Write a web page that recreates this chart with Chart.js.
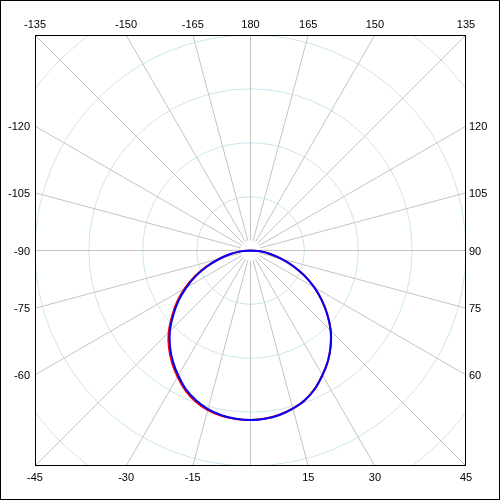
<!DOCTYPE html>
<html>
<head>
<meta charset="utf-8">
<script src="https://cdn.jsdelivr.net/npm/chart.js@4/dist/chart.umd.min.js"></script>
<style>
  html, body { margin: 0; padding: 0; background: #ffffff; }
  #wrap { width: 500px; height: 500px; }
</style>
</head>
<body>
<div id="wrap"><canvas id="c" width="500" height="500"></canvas></div>
<script>
// Angles in degrees (0 = down, 90 = right, 180 = up, -90 = left)
const angles = [-90,-85,-80,-75,-70,-65,-60,-55,-50,-45,-40,-35,-30,-25,-20,-15,-10,-5,0,5,10,15,20,25,30,35,40,45,50,55,60,65,70,75,80,85,90];
// Radii normalised so that 1 = half width of the plot square
const blueR = [0,0.046,0.094,0.148,0.213,0.279,0.344,0.408,0.468,0.529,0.581,0.628,0.670,0.710,0.740,0.762,0.776,0.784,0.787,0.784,0.775,0.760,0.738,0.708,0.668,0.626,0.579,0.527,0.466,0.405,0.342,0.276,0.210,0.146,0.093,0.045,0];
const redR  = [0,0.047,0.097,0.153,0.220,0.287,0.353,0.417,0.476,0.537,0.589,0.635,0.677,0.716,0.746,0.767,0.779,0.785,0.787,0.783,0.774,0.759,0.739,0.707,0.667,0.627,0.578,0.526,0.467,0.404,0.341,0.277,0.209,0.147,0.092,0.045,0];
// Angle tick labels around the square
const topLabels = [-135,-150,-165,180,165,150,135];
const bottomLabels = [-45,-30,-15,15,30,45];
const leftLabels = [-120,-105,-90,-75,-60];
const rightLabels = [120,105,90,75,60];
const ringValues = [0.25,0.5,0.75,1,1.25];
const spokeAngles = [];
for (let a = -180; a < 180; a += 15) spokeAngles.push(a);

function toXY(thetaDeg, r) {
  const t = thetaDeg * Math.PI / 180;
  return { x: r * Math.sin(t), y: -r * Math.cos(t) };
}
const bluePts = angles.map((a, i) => toXY(a, blueR[i]));
const redPts = angles.map((a, i) => toXY(a, redR[i]));

const polarGrid = {
  id: 'polarGrid',
  beforeDatasetsDraw(chart) {
    const ctx = chart.ctx, xs = chart.scales.x, ys = chart.scales.y, ca = chart.chartArea;
    const cx = xs.getPixelForValue(0), cy = ys.getPixelForValue(0);
    const unit = xs.getPixelForValue(1) - cx;
    ctx.save();
    ctx.beginPath();
    ctx.rect(ca.left, ca.top, ca.right - ca.left, ca.bottom - ca.top);
    ctx.clip();
    ctx.lineWidth = 1;
    ctx.strokeStyle = '#c9e5ee';
    ringValues.forEach(v => {
      ctx.beginPath();
      ctx.arc(cx, cy, v * unit, 0, Math.PI * 2);
      ctx.stroke();
    });
    ctx.strokeStyle = '#c4c4c4';
    spokeAngles.forEach(a => {
      const t = a * Math.PI / 180;
      const dx = Math.sin(t), dy = Math.cos(t);
      ctx.beginPath();
      ctx.moveTo(cx + dx * 10, cy + dy * 10);
      ctx.lineTo(cx + dx * 2 * unit, cy + dy * 2 * unit);
      ctx.stroke();
    });
    ctx.restore();
  },
  afterDraw(chart) {
    const ctx = chart.ctx, xs = chart.scales.x, ys = chart.scales.y, ca = chart.chartArea;
    ctx.save();
    ctx.strokeStyle = '#000';
    ctx.lineWidth = 1;
    ctx.strokeRect(0.5, 0.5, 499, 499);
    ctx.strokeRect(35.5, 35.5, 430, 430);
    ctx.fillStyle = '#000';
    ctx.font = '11px "Liberation Sans", Arial, sans-serif';
    ctx.textAlign = 'center';
    ctx.textBaseline = 'middle';
    topLabels.forEach(a => {
      const v = -Math.tan(a * Math.PI / 180);
      ctx.fillText(String(a), xs.getPixelForValue(v), ca.top - 10);
    });
    bottomLabels.forEach(a => {
      const v = Math.tan(a * Math.PI / 180);
      ctx.fillText(String(a), xs.getPixelForValue(v), ca.bottom + 12);
    });
    ctx.textAlign = 'right';
    leftLabels.forEach(a => {
      const t = a * Math.PI / 180;
      const v = -Math.cos(t) / Math.abs(Math.sin(t));
      ctx.fillText(String(a), ca.left - 5, ys.getPixelForValue(v) + 1);
    });
    ctx.textAlign = 'left';
    rightLabels.forEach(a => {
      const t = a * Math.PI / 180;
      const v = -Math.cos(t) / Math.abs(Math.sin(t));
      ctx.fillText(String(a), ca.right + 3, ys.getPixelForValue(v) + 1);
    });
    ctx.restore();
  }
};

new Chart(document.getElementById('c'), {
  type: 'scatter',
  data: {
    datasets: [
      { label: 'blue', data: bluePts, showLine: true, borderColor: '#0000ff', backgroundColor: '#0000ff', borderWidth: 2, pointRadius: 0, tension: 0.35, order: 0 },
      { label: 'red', data: redPts, showLine: true, borderColor: '#ff0000', backgroundColor: '#ff0000', borderWidth: 2, pointRadius: 0, tension: 0.35, order: 1 }
    ]
  },
  options: {
    responsive: false,
    animation: false,
    events: [],
    layout: { padding: { left: 35, top: 35, right: 34, bottom: 34 } },
    plugins: { legend: { display: false }, tooltip: { enabled: false } },
    scales: {
      x: { type: 'linear', min: -1, max: 1, display: false },
      y: { type: 'linear', min: -1, max: 1, display: false }
    }
  },
  plugins: [polarGrid]
});
</script>
</body>
</html>
